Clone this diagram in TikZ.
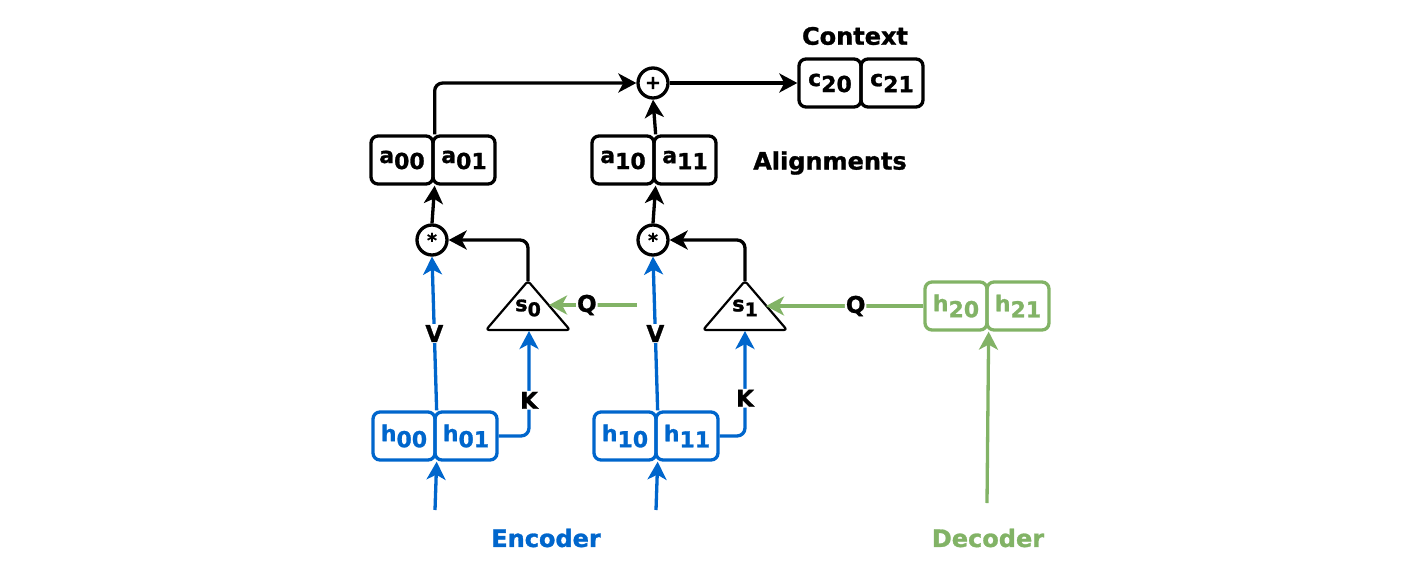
\documentclass[tikz,border=0pt]{standalone}
\usepackage{fontspec}
\setmainfont{DejaVu Sans}[BoldFeatures={FakeBold=1.2}]
\usetikzlibrary{arrows.meta}
\definecolor{encblue}{HTML}{0066CC}
\definecolor{decgreen}{HTML}{82B366}
\newcommand\cellab[2]{{\fontsize{22}{22}\selectfont #1}\raisebox{-6pt}{\fontsize{22}{22}\selectfont #2}}
\newcommand\trilab[2]{{\fontsize{21}{21}\selectfont #1}\raisebox{-5pt}{\fontsize{19}{19}\selectfont #2}}
\begin{document}
\begin{tikzpicture}[x=1pt,y=-1pt,
  cell/.style={draw, line width=3.3pt, rounded corners=7pt, minimum width=62pt, minimum height=48pt, inner sep=0pt, font=\bfseries},
  opnode/.style={draw, circle, line width=3.3pt, minimum size=30pt, inner sep=0pt, font=\bfseries\fontsize{19}{19}\selectfont},
  conn/.style={line width=3.3pt, rounded corners=8pt, -{Stealth[length=18pt,width=19pt,inset=5pt]}},
  tri/.style={draw, line width=2.2pt, rounded corners=3pt, line join=round},
  lbl/.style={fill=white, inner sep=1pt, font=\bfseries\fontsize{23}{23}\selectfont},
  title/.style={font=\bfseries\fontsize{24}{24}\selectfont},
  trinode/.style={inner sep=0pt, font=\bfseries}
]
\useasboundingbox (0,0) rectangle (1426,570);

% alignment boxes
\node[cell] (a00) at (402,160) {\cellab{a}{00}};
\node[cell] (a01) at (464,160) {\cellab{a}{01}};
\node[cell] (a10) at (623,160) {\cellab{a}{10}};
\node[cell] (a11) at (685,160) {\cellab{a}{11}};
% context
\node[cell] (c20) at (830,83) {\cellab{c}{20}};
\node[cell] (c21) at (892,83) {\cellab{c}{21}};
% encoder
\node[cell, draw=encblue, text=encblue] (h00) at (404,436) {\cellab{h}{00}};
\node[cell, draw=encblue, text=encblue] (h01) at (466,436) {\cellab{h}{01}};
\node[cell, draw=encblue, text=encblue] (h10) at (625,436) {\cellab{h}{10}};
\node[cell, draw=encblue, text=encblue] (h11) at (687,436) {\cellab{h}{11}};
% decoder
\node[cell, draw=decgreen, text=decgreen] (h20) at (956,306) {\cellab{h}{20}};
\node[cell, draw=decgreen, text=decgreen] (h21) at (1018,306) {\cellab{h}{21}};

% operators
\node[opnode] (plus) at (653,83) {+};
\node[opnode] (star0) at (432,240) {*};
\node[opnode] (star1) at (653,240) {*};

% triangles
\draw[tri] (528,281) -- (570,330) -- (486,330) -- cycle;
\draw[tri] (745,281) -- (787,330) -- (703,330) -- cycle;
\coordinate (s0apex) at (528,281);
\coordinate (s0base) at (529,331);
\coordinate (s0right) at (549,305);
\coordinate (s1apex) at (745,281);
\coordinate (s1base) at (745,331);
\coordinate (s1right) at (766,306);
\node[trinode] (s0) at (528,308) {\trilab{s}{0}};
\node[trinode] (s1) at (745,308) {\trilab{s}{1}};

% titles
\node[title] (ctx) at (855,36) {Context};
\node[title] (align) at (830,163) {Alignments};
\node[title, text=encblue] (enc) at (546,538) {Encoder};
\node[title, text=decgreen] (dec) at (988,538) {Decoder};

% free ends
\coordinate (in0) at (435,510);
\coordinate (in1) at (656,510);
\coordinate (din) at (987,503);
\coordinate (q0) at (637,305);

% black connectors
\draw[conn] (star0.north) -- (a00.south east);
\draw[conn] (star1.north) -- (a10.south east);
\draw[conn] (a00.north east) |- (plus.west);
\draw[conn] (a10.north east) -- (plus.south);
\draw[conn] (plus.east) -- (c20.west);
\draw[conn] (s0apex) |- (star0.east);
\draw[conn] (s1apex) |- (star1.east);

% blue connectors
\draw[conn, encblue] (in0) -- (h00.south east);
\draw[conn, encblue] (in1) -- (h10.south east);
\draw[conn, encblue] (h00.north east) -- node[lbl, text=black]{V} (star0.south);
\draw[conn, encblue] (h10.north east) -- node[lbl, text=black]{V} (star1.south);
\draw[conn, encblue] (h01.east) -| node[lbl, text=black, pos=0.67]{K} (s0base);
\draw[conn, encblue] (h11.east) -| node[lbl, text=black, pos=0.68]{K} (s1base);

% green connectors
\draw[conn, decgreen] (din) -- (h20.south east);
\draw[conn, decgreen] (q0) -- node[lbl, text=black, pos=0.57]{Q} (s0right);
\draw[conn, decgreen] (h20.west) -- node[lbl, text=black, pos=0.43]{Q} (s1right);
\end{tikzpicture}
\end{document}
